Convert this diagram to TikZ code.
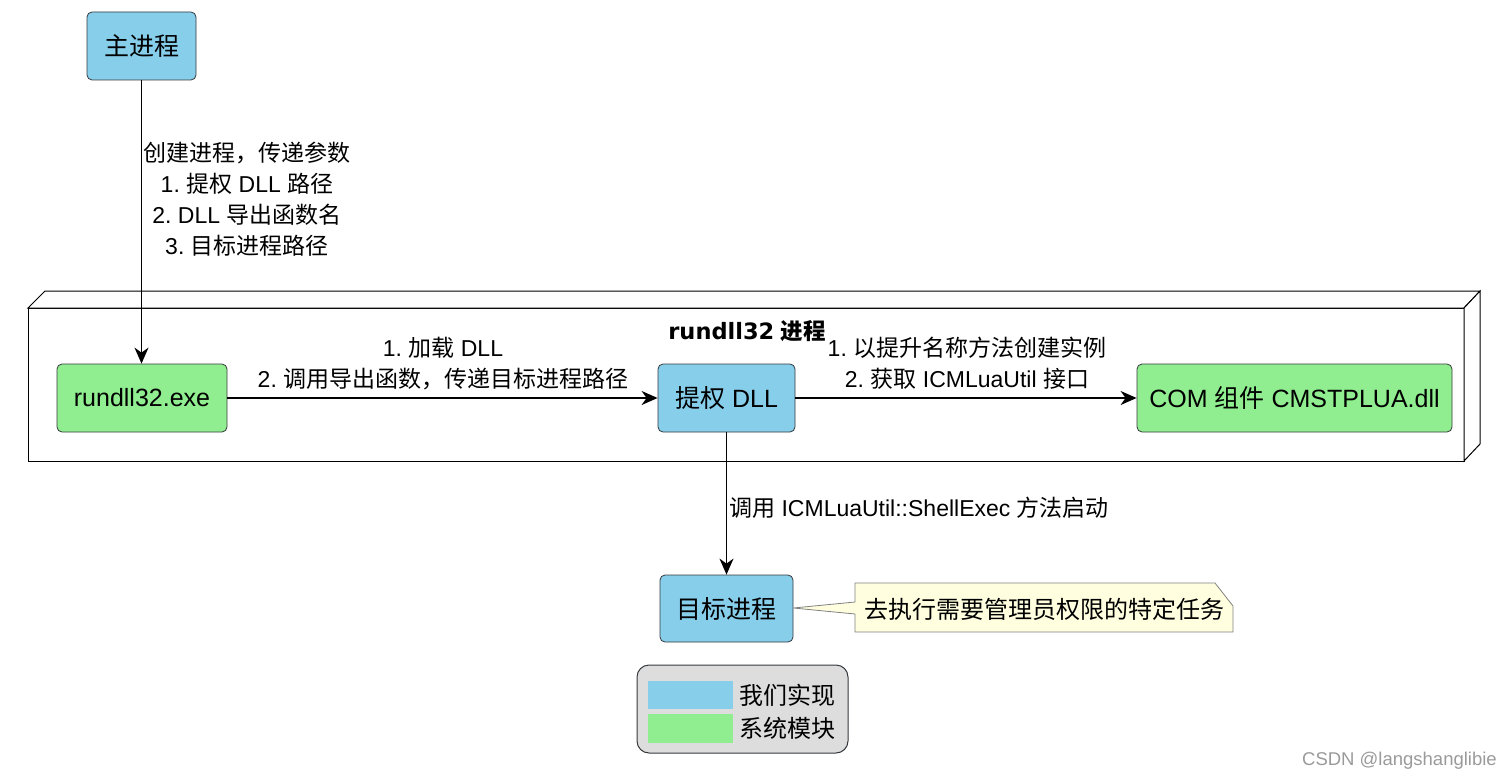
\documentclass[tikz,border=0pt]{standalone}
\usepackage{fontspec}
\setmainfont{Liberation Sans}
\newfontfamily\zhfont{Noto Sans CJK SC}
\newfontfamily\titlefont{DejaVu Sans}
\newcommand\zh[1]{{\zhfont #1}}
\usetikzlibrary{arrows.meta}
\definecolor{ourblue}{HTML}{87CEEB}
\definecolor{sysgreen}{HTML}{90EE90}
\definecolor{legendgray}{HTML}{DDDDDD}
\definecolor{noteyellow}{HTML}{FFFFE0}
\definecolor{boxline}{HTML}{36393D}
\definecolor{wmgray}{HTML}{9A9A9A}
\tikzset{
  basebox/.style={draw=boxline, line width=0.8pt, rounded corners=5pt, inner sep=0pt,
    font=\fontsize{25}{30}\selectfont},
  bluebox/.style={basebox, fill=ourblue},
  greenbox/.style={basebox, fill=sysgreen},
  conn/.style={line width=1.4pt, -{Stealth[length=16pt,width=14pt,inset=5pt]}},
  lbl/.style={align=center, inner sep=0pt, font=\fontsize{23}{31}\selectfont},
}
\frenchspacing
\begin{document}
\begin{tikzpicture}[x=1pt,y=-1pt]
\useasboundingbox (0,0) rectangle (1510,781);
% 3D container
\draw[line width=1pt, fill=white] (28,308) rectangle (1464,461);
\draw[line width=1pt, fill=white] (28,308) -- (45,291) -- (1480,291) -- (1464,308) -- cycle;
\draw[line width=1pt, fill=white] (1464,308) -- (1480,291) -- (1480,444) -- (1464,461) -- cycle;
\node[font=\fontsize{22.5}{26}\selectfont\bfseries, inner sep=0pt] (title) at (747,331) {{\titlefont rundll32} \zh{进程}};

% nodes
\node[bluebox, minimum width=109pt, minimum height=68pt] (main) at (141.5,46) {\zh{主进程}};
\node[greenbox, minimum width=170pt, minimum height=68pt] (rundll) at (142,398) {rundll32.exe};
\node[bluebox, minimum width=137pt, minimum height=68pt] (dll) at (726.5,398) {\zh{提权} DLL};
\node[greenbox, minimum width=315pt, minimum height=68pt] (com) at (1294.5,398) {COM \zh{组件} CMSTPLUA.dll};
\node[bluebox, minimum width=133pt, minimum height=67pt] (target) at (726.5,608.5) {\zh{目标进程}};

% connectors
\draw[conn] (main.south) -- (main.south |- rundll.north);
\draw[conn] (rundll.east) -- (dll.west);
\draw[conn] (dll.east) -- (com.west);
\draw[conn] (dll.south) -- (target.north);

% labels
\node[lbl] (l1) at (247,199.5) {\zh{创建进程，传递参数}\\1. \zh{提权} DLL \zh{路径}\\2. DLL \zh{导出函数名}\\3. \zh{目标进程路径}};
\node[lbl] (l2) at (443,363.5) {1. \zh{加载} DLL\\2. \zh{调用导出函数，传递目标进程路径}};
\node[lbl] (l3) at (967,363.5) {1. \zh{以提升名称方法创建实例}\\2. \zh{获取} ICMLuaUtil \zh{接口}};
\node[lbl, anchor=west] (l4) at (729,508) {\zh{调用} ICMLuaUtil::ShellExec \zh{方法启动}};

% callout note
\draw[draw=gray, line width=0.8pt, fill=noteyellow]
  (855,583) -- (1215,583) -- (1233,606) -- (1233,632) -- (855,632) -- (855,614)
  -- (target.east |- 0,608) -- (855,602) -- cycle;
\node[lbl, font=\fontsize{24}{30}\selectfont] (note) at (1044,609) {\zh{去执行需要管理员权限的特定任务}};

% legend
\draw[draw=boxline, line width=1pt, fill=legendgray, rounded corners=12pt] (637,665) rectangle (848,753);
\fill[ourblue] (648,681) rectangle (733,709);
\fill[sysgreen] (648,714) rectangle (733,743);
\node[lbl, anchor=west, font=\fontsize{24}{30}\selectfont] (lg1) at (739,695) {\zh{我们实现}};
\node[lbl, anchor=west, font=\fontsize{24}{30}\selectfont] (lg2) at (739,728) {\zh{系统模块}};

% watermark
\node[anchor=east, inner sep=0pt, text=wmgray, font=\fontsize{18.5}{22}\selectfont] (wm) at (1497,761) {CSDN @langshanglibie};
\end{tikzpicture}
\end{document}
